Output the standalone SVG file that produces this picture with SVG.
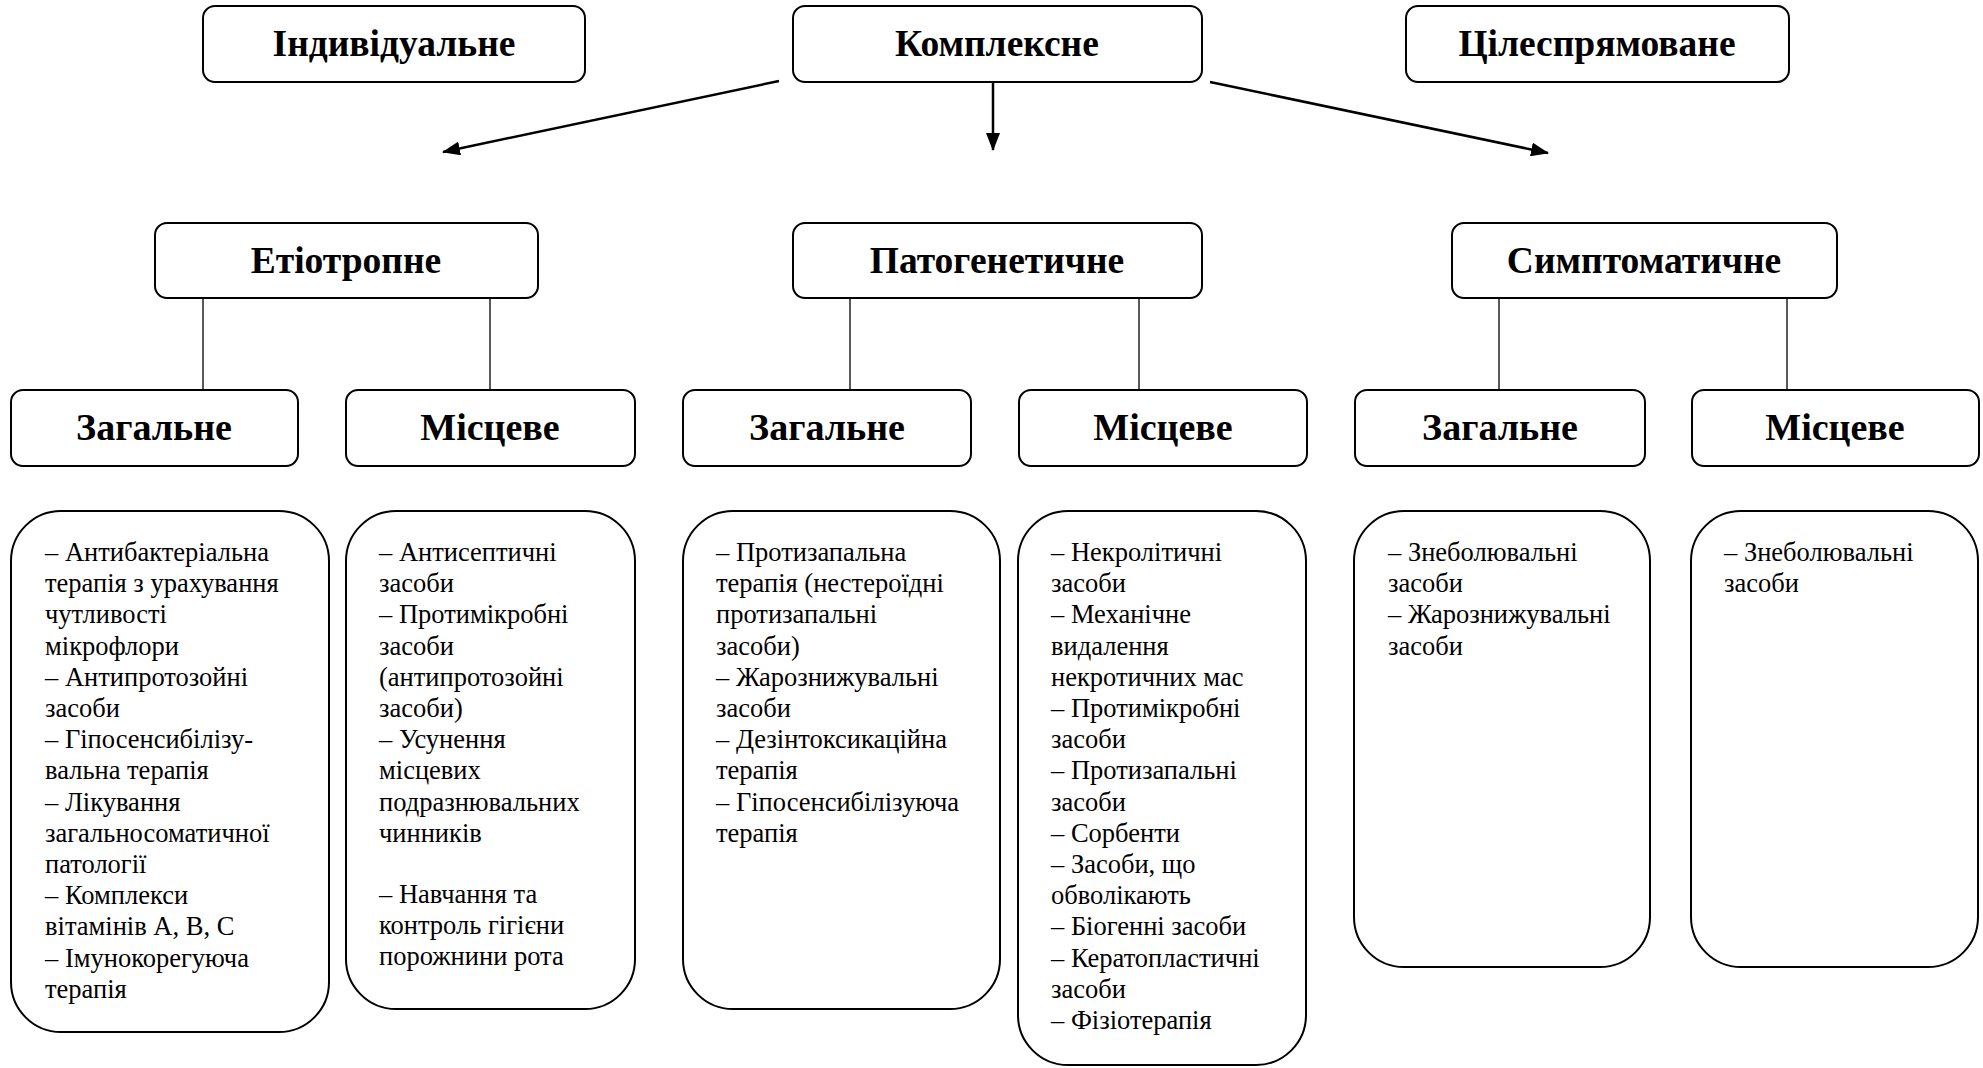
<svg xmlns="http://www.w3.org/2000/svg" width="1983" height="1068" viewBox="0 0 1983 1068">
<style>
  .box { fill: #fff; stroke: #000; stroke-width: 2; }
  .h1 { font-family: "Liberation Serif", "Times New Roman", serif; font-weight: bold; font-size: 37.5px; text-anchor: middle; fill: #000; }
  .h3 { font-family: "Liberation Serif", "Times New Roman", serif; font-weight: bold; font-size: 38px; text-anchor: middle; fill: #000; }
  .t { font-family: "Liberation Serif", "Times New Roman", serif; font-size: 26.5px; fill: #000; }
  .arrow { stroke: #000; stroke-width: 2.5; fill: none; }
  .link { stroke: #000; stroke-width: 1.3; fill: none; }
</style>
<defs>
  <marker id="ah" viewBox="0 0 18 14" refX="17" refY="7" markerWidth="18" markerHeight="14" markerUnits="userSpaceOnUse" orient="auto">
    <path d="M0,0 L18,7 L0,14 Z" fill="#000"/>
  </marker>
</defs>
<rect width="1983" height="1068" fill="#fff"/>

<g id="connectors">
  <line class="arrow" x1="779" y1="81" x2="443" y2="152" marker-end="url(#ah)"/>
  <line class="arrow" x1="993" y1="82" x2="993" y2="150" marker-end="url(#ah)"/>
  <line class="arrow" x1="1210" y1="82" x2="1548" y2="153" marker-end="url(#ah)"/>
  <line class="link" x1="203" y1="298" x2="203" y2="390"/>
  <line class="link" x1="490" y1="298" x2="490" y2="390"/>
  <line class="link" x1="850" y1="298" x2="850" y2="390"/>
  <line class="link" x1="1139" y1="298" x2="1139" y2="390"/>
  <line class="link" x1="1499" y1="298" x2="1499" y2="390"/>
  <line class="link" x1="1787" y1="298" x2="1787" y2="390"/>
</g>

<g id="individualne"><rect class="box" x="203" y="6" width="382" height="76" rx="12"/><text class="h1" x="394" y="56">Індивідуальне</text></g>
<g id="kompleksne"><rect class="box" x="793" y="6" width="409" height="76" rx="12"/><text class="h1" x="997" y="56">Комплексне</text></g>
<g id="tsilespryamovane"><rect class="box" x="1406" y="6" width="383" height="76" rx="12"/><text class="h1" x="1597" y="56">Цілеспрямоване</text></g>

<g id="etiotropne"><rect class="box" x="155" y="223" width="383" height="75" rx="12"/><text class="h1" x="346" y="273">Етіотропне</text></g>
<g id="patogenetychne"><rect class="box" x="793" y="223" width="409" height="75" rx="12"/><text class="h1" x="997" y="273">Патогенетичне</text></g>
<g id="symptomatychne"><rect class="box" x="1452" y="223" width="385" height="75" rx="12"/><text class="h1" x="1644" y="273">Симптоматичне</text></g>

<g id="zag1"><rect class="box" x="11" y="390" width="287" height="76" rx="12"/><text class="h3" x="154" y="440">Загальне</text></g>
<g id="mis1"><rect class="box" x="346" y="390" width="289" height="76" rx="12"/><text class="h3" x="490" y="440">Місцеве</text></g>
<g id="zag2"><rect class="box" x="683" y="390" width="288" height="76" rx="12"/><text class="h3" x="827" y="440">Загальне</text></g>
<g id="mis2"><rect class="box" x="1019" y="390" width="288" height="76" rx="12"/><text class="h3" x="1163" y="440">Місцеве</text></g>
<g id="zag3"><rect class="box" x="1355" y="390" width="290" height="76" rx="12"/><text class="h3" x="1500" y="440">Загальне</text></g>
<g id="mis3"><rect class="box" x="1692" y="390" width="287" height="76" rx="12"/><text class="h3" x="1835" y="440">Місцеве</text></g>

<g id="content1"><rect class="box" x="11" y="511" width="318" height="521" rx="50"/>
<text class="t">
<tspan x="45" y="561">– Антибактеріальна</tspan>
<tspan x="45" y="592.2">терапія з урахування</tspan>
<tspan x="45" y="623.4">чутливості</tspan>
<tspan x="45" y="654.6">мікрофлори</tspan>
<tspan x="45" y="685.8">– Антипротозойні</tspan>
<tspan x="45" y="717">засоби</tspan>
<tspan x="45" y="748.2">– Гіпосенсибілізу-</tspan>
<tspan x="45" y="779.4">вальна терапія</tspan>
<tspan x="45" y="810.6">– Лікування</tspan>
<tspan x="45" y="841.8">загальносоматичної</tspan>
<tspan x="45" y="873">патології</tspan>
<tspan x="45" y="904.2">– Комплекси</tspan>
<tspan x="45" y="935.4">вітамінів А, В, С</tspan>
<tspan x="45" y="966.6">– Імунокорегуюча</tspan>
<tspan x="45" y="997.8">терапія</tspan>
</text></g>

<g id="content2"><rect class="box" x="346" y="511" width="289" height="498" rx="50"/>
<text class="t">
<tspan x="379" y="561">– Антисептичні</tspan>
<tspan x="379" y="592.2">засоби</tspan>
<tspan x="379" y="623.4">– Протимікробні</tspan>
<tspan x="379" y="654.6">засоби</tspan>
<tspan x="379" y="685.8">(антипротозойні</tspan>
<tspan x="379" y="717">засоби)</tspan>
<tspan x="379" y="748.2">– Усунення</tspan>
<tspan x="379" y="779.4">місцевих</tspan>
<tspan x="379" y="810.6">подразнювальних</tspan>
<tspan x="379" y="841.8">чинників</tspan>
<tspan x="379" y="903">– Навчання та</tspan>
<tspan x="379" y="934">контроль гігієни</tspan>
<tspan x="379" y="965">порожнини рота</tspan>
</text></g>

<g id="content3"><rect class="box" x="683" y="511" width="317" height="498" rx="50"/>
<text class="t">
<tspan x="716" y="561">– Протизапальна</tspan>
<tspan x="716" y="592.2">терапія (нестероїдні</tspan>
<tspan x="716" y="623.4">протизапальні</tspan>
<tspan x="716" y="654.6">засоби)</tspan>
<tspan x="716" y="685.8">– Жарознижувальні</tspan>
<tspan x="716" y="717">засоби</tspan>
<tspan x="716" y="748.2">– Дезінтоксикаційна</tspan>
<tspan x="716" y="779.4">терапія</tspan>
<tspan x="716" y="810.6">– Гіпосенсибілізуюча</tspan>
<tspan x="716" y="841.8">терапія</tspan>
</text></g>

<g id="content4"><rect class="box" x="1018" y="511" width="288" height="554" rx="50"/>
<text class="t">
<tspan x="1051" y="561">– Некролітичні</tspan>
<tspan x="1051" y="592.2">засоби</tspan>
<tspan x="1051" y="623.4">– Механічне</tspan>
<tspan x="1051" y="654.6">видалення</tspan>
<tspan x="1051" y="685.8">некротичних мас</tspan>
<tspan x="1051" y="717">– Протимікробні</tspan>
<tspan x="1051" y="748.2">засоби</tspan>
<tspan x="1051" y="779.4">– Протизапальні</tspan>
<tspan x="1051" y="810.6">засоби</tspan>
<tspan x="1051" y="841.8">– Сорбенти</tspan>
<tspan x="1051" y="873">– Засоби, що</tspan>
<tspan x="1051" y="904.2">обволікають</tspan>
<tspan x="1051" y="935.4">– Біогенні засоби</tspan>
<tspan x="1051" y="966.6">– Кератопластичні</tspan>
<tspan x="1051" y="997.8">засоби</tspan>
<tspan x="1051" y="1029">– Фізіотерапія</tspan>
</text></g>

<g id="content5"><rect class="box" x="1354" y="511" width="296" height="456" rx="50"/>
<text class="t">
<tspan x="1388" y="561">– Знеболювальні</tspan>
<tspan x="1388" y="592.2">засоби</tspan>
<tspan x="1388" y="623.4">– Жарознижувальні</tspan>
<tspan x="1388" y="654.6">засоби</tspan>
</text></g>

<g id="content6"><rect class="box" x="1691" y="511" width="287" height="456" rx="50"/>
<text class="t">
<tspan x="1724" y="561">– Знеболювальні</tspan>
<tspan x="1724" y="592.2">засоби</tspan>
</text></g>
</svg>
